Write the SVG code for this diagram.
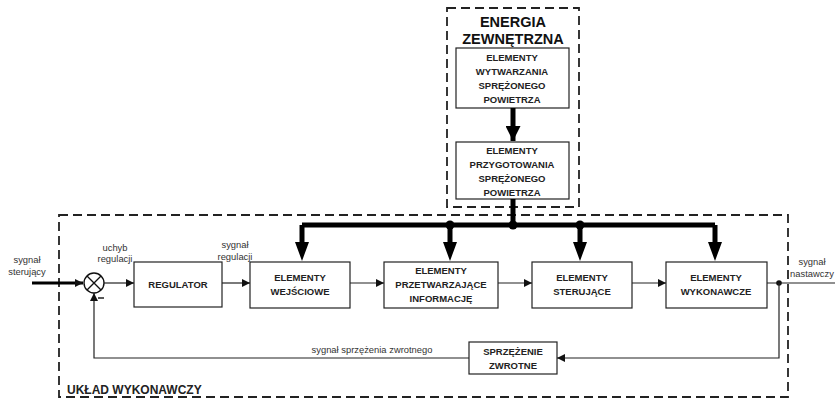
<svg xmlns="http://www.w3.org/2000/svg" width="835" height="398" viewBox="0 0 835 398">
<style>
.box{fill:#fff;stroke:#222;stroke-width:1.2}
.dash{fill:none;stroke:#222;stroke-width:1.8;stroke-dasharray:9,5}
.b{font-family:"Liberation Sans",Arial,sans-serif;font-weight:bold;font-size:9.5px;fill:#222;text-anchor:middle}
.h{font-family:"Liberation Sans",Arial,sans-serif;font-weight:bold;font-size:14.5px;fill:#111;text-anchor:middle}
.l{font-family:"Liberation Sans",Arial,sans-serif;font-size:9.4px;fill:#333;text-anchor:middle}
.thin{fill:none;stroke:#222;stroke-width:1.2}
.bus{fill:none;stroke:#000;stroke-width:5}
</style>
<defs>
<marker id="a" viewBox="0 0 10 10" refX="10" refY="5" markerWidth="10" markerHeight="8" markerUnits="userSpaceOnUse" orient="auto"><path d="M0,0L10,5L0,10z" fill="#111"/></marker>
<marker id="A" viewBox="0 0 10 10" refX="10" refY="5" markerWidth="17" markerHeight="15" markerUnits="userSpaceOnUse" orient="auto"><path d="M0,0L10,5L0,10z" fill="#000"/></marker>
</defs>
<rect class="dash" x="447" y="8" width="132" height="199"/>
<rect class="dash" x="59" y="215" width="729" height="182"/>
<text class="h" x="513" y="27">ENERGIA</text>
<text class="h" x="513" y="44">ZEWNĘTRZNA</text>
<g id="n_wytw"><rect class="box" x="456" y="48" width="113" height="60"/>
<text class="b" x="512" y="61">ELEMENTY</text><text class="b" x="512" y="75">WYTWARZANIA</text><text class="b" x="512" y="89">SPRĘŻONEGO</text><text class="b" x="512" y="103">POWIETRZA</text></g>
<g id="n_przyg"><rect class="box" x="456" y="142" width="113" height="57"/>
<text class="b" x="512" y="154">ELEMENTY</text><text class="b" x="512" y="168">PRZYGOTOWANIA</text><text class="b" x="512" y="182">SPRĘŻONEGO</text><text class="b" x="512" y="196">POWIETRZA</text></g>
<g id="n_reg"><rect class="box" x="134" y="262" width="88" height="45"/><text class="b" x="178" y="288">REGULATOR</text></g>
<g id="n_wej"><rect class="box" x="250" y="262" width="100" height="46"/><text class="b" x="300" y="281">ELEMENTY</text><text class="b" x="300" y="295">WEJŚCIOWE</text></g>
<g id="n_prz"><rect class="box" x="384" y="262" width="114" height="46"/><text class="b" x="441" y="274">ELEMENTY</text><text class="b" x="441" y="288">PRZETWARZAJĄCE</text><text class="b" x="441" y="302">INFORMACJĘ</text></g>
<g id="n_ster"><rect class="box" x="532" y="262" width="100" height="46"/><text class="b" x="582" y="281">ELEMENTY</text><text class="b" x="582" y="295">STERUJĄCE</text></g>
<g id="n_wyk"><rect class="box" x="666" y="262" width="101" height="46"/><text class="b" x="716" y="281">ELEMENTY</text><text class="b" x="716" y="295">WYKONAWCZE</text></g>
<g id="n_sprz"><rect class="box" x="469" y="342" width="88" height="32"/><text class="b" x="513" y="355">SPRZĘŻENIE</text><text class="b" x="513" y="369">ZWROTNE</text></g>
<g id="n_sum"><circle cx="94" cy="283" r="10" fill="#fff" stroke="#111" stroke-width="1.4"/><path d="M87,276L101,290M101,276L87,290" stroke="#111" stroke-width="1.4"/><path d="M98,298h6" stroke="#111" stroke-width="1.4"/></g>
<g id="connectors">
<path class="bus" d="M513,108V141" marker-end="url(#A)"/>
<path class="bus" d="M513,199V225M302,225H715M302,225V250M450,225V250M580,225V250M715,225V250"/>
<path d="M295,242L309,242L302,261z M443,242L457,242L450,261z M573,242L587,242L580,261z M708,242L722,242L715,261z" fill="#000"/>
<circle cx="450" cy="225" r="4.5"/><circle cx="513" cy="225" r="4.5"/><circle cx="580" cy="225" r="4.5"/>
<path d="M32,283H83" stroke="#000" stroke-width="3" marker-end="url(#a)"/>
<path class="thin" d="M104,283H134" marker-end="url(#a)"/>
<path class="thin" d="M222,283H250" marker-end="url(#a)"/>
<path class="thin" d="M350,283H384" marker-end="url(#a)"/>
<path class="thin" d="M498,283H532" marker-end="url(#a)"/>
<path class="thin" d="M632,283H666" marker-end="url(#a)"/>
<path class="thin" d="M767,283H835"/>
<circle cx="779" cy="283" r="2.8" fill="#111"/>
<path class="thin" d="M779,283V358H557" marker-end="url(#a)"/>
<path class="thin" d="M469,358H94V293" marker-end="url(#a)"/>
</g>
<text class="l" x="27" y="263">sygnał</text><text class="l" x="27" y="275">sterujący</text>
<text class="l" x="115" y="251">uchyb</text><text class="l" x="115" y="262">regulacji</text>
<text class="l" x="235" y="248">sygnał</text><text class="l" x="235" y="260">regulacji</text>
<text class="l" x="812" y="265">sygnał</text><text class="l" x="812" y="277">nastawczy</text>
<text class="l" x="372" y="353">sygnał sprzężenia zwrotnego</text>
<text x="67" y="394" font-family="'Liberation Sans',Arial,sans-serif" font-weight="bold" font-size="12" fill="#222">UKŁAD WYKONAWCZY</text>
</svg>
